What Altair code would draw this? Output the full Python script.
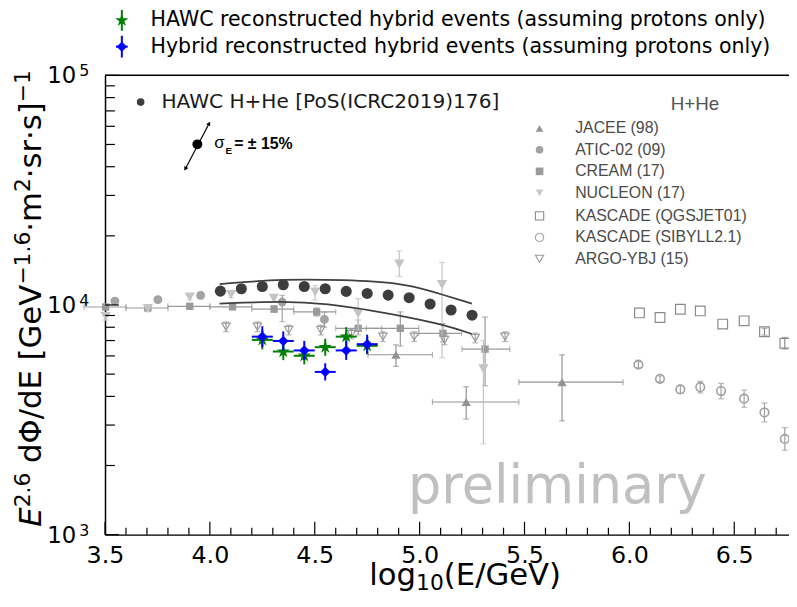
import altair as alt
import pandas as pd

# ---------------- data ----------------
hawc_x = [4.05, 4.15, 4.25, 4.35, 4.45, 4.55, 4.65, 4.75, 4.85, 4.95, 5.05, 5.15, 5.25]
hawc_y = [11490, 11770, 12040, 12250, 12040, 11770, 11460, 11230, 11040, 10760, 10100, 9510, 9030]

band_up_x = [4.047, 4.353, 4.636, 4.919, 5.043, 5.249]
band_up_y = [12340, 12990, 12870, 12450, 11570, 10140]
band_lo_x = [4.046, 4.353, 4.557, 4.793, 4.930, 5.123, 5.249]
band_lo_y = [10140, 10400, 10140, 9400, 8900, 8175, 7475]

green_x = [4.25, 4.35, 4.45, 4.55, 4.65, 4.75]
green_y = [7046, 6270, 6010, 6550, 7280, 6640]
green_yerr = [0.10, 0.09, 0.09, 0.09, 0.10, 0.09]
blue_x = [4.25, 4.35, 4.45, 4.55, 4.65, 4.75]
blue_y = [7280, 6973, 6340, 5113, 6340, 6750]
blue_yerr = [0.11, 0.10, 0.10, 0.09, 0.10, 0.10]
hyb_xerr = 0.05

jacee_x = [4.887, 5.222, 5.679]
jacee_y = [6070, 3780, 4610]
jacee_xlo = [4.754, 5.061, 5.473]
jacee_xhi = [5.061, 5.473, 5.970]
jacee_ylo = [5405, 3185, 3130]
jacee_yhi = [6705, 4405, 6070]

atic_x = [3.547, 3.752, 3.956, 4.345, 4.546]
atic_y = [10400, 10550, 11010, 10300, 8650]
atic_ylo = [10100, 10250, 10650, 8460, 8000]
atic_yhi = [10700, 10850, 11350, 11010, 9300]

cream_x = [3.503, 3.704, 3.904, 4.108, 4.306, 4.509, 4.707, 4.908, 5.111, 5.312]
cream_y = [9800, 9700, 9870, 9820, 9600, 9330, 7913, 7913, 7526, 6424]
cream_xlo = [3.40, 3.60, 3.80, 4.00, 4.20, 4.40, 4.60, 4.746, 4.996, 5.202]
cream_xhi = [3.60, 3.80, 4.00, 4.20, 4.40, 4.60, 4.82, 4.996, 5.200, 5.430]
cream_ylo = [9550, 9450, 9600, 9550, 9300, 8950, 7400, 6620, 6900, 4450]
cream_yhi = [10050, 9950, 10150, 10100, 9900, 9700, 8600, 9330, 8300, 8860]

nucleon_x = [3.503, 3.704, 3.904, 4.101, 4.305, 4.502, 4.707, 4.903, 5.107, 5.304]
nucleon_y = [8900, 9650, 10830, 11120, 10690, 11380, 9180, 15080, 12280, 5280]
nucleon_ylo = [8600, 9350, 10500, 10750, 10300, 10500, 7780, 13320, 5890, 2485]
nucleon_yhi = [9200, 9950, 11150, 11500, 11100, 12160, 10660, 17210, 15320, 7000]

argo_x = [4.077, 4.227, 4.376, 4.529, 4.675, 4.825, 4.974, 5.119, 5.265, 5.407]
argo_y = [8040, 8040, 7780, 7780, 7480, 7280, 7280, 7046, 7187, 7280]
argo_yerr = [0.05, 0.05, 0.05, 0.05, 0.05, 0.05, 0.05, 0.05, 0.05, 0.05]

kq_x = [6.048, 6.146, 6.243, 6.338, 6.445, 6.547, 6.644, 6.741]
kq_y = [9236, 8824, 9583, 9421, 8257, 8531, 7648, 6816]
kq_yerr = [0, 0, 0, 0, 0, 0, 0.035, 0.06]

ks_x = [6.043, 6.146, 6.243, 6.338, 6.437, 6.547, 6.644, 6.741]
ks_y = [5495, 4769, 4288, 4387, 4217, 3910, 3404, 2611]
ks_yerr = [0.03, 0.03, 0.04, 0.06, 0.08, 0.09, 0.10, 0.12]

x_major = [3.5, 4.0, 4.5, 5.0, 5.5, 6.0, 6.5]
x_minor = [round(3.5 + 0.1 * i, 1) for i in range(33) if i % 5 != 0]
y_major = [1000, 10000, 100000]
y_major_exp = ["3", "4", "5"]
y_minor = [m * d for d in (1000, 10000) for m in range(2, 10)]

lit_labels = ["JACEE (98)", "ATIC-02 (09)", "CREAM (17)", "NUCLEON (17)",
              "KASCADE (QGSJET01)", "KASCADE (SIBYLL2.1)", "ARGO-YBJ (15)"]
lit_shapes = ["triangle-up", "circle", "square", "triangle-down", "square", "circle", "triangle-down"]
lit_filled = [True, True, True, True, False, False, False]
lit_colors = ["#939393", "#a3a3a3", "#9a9a9a", "#c8c8c8", "#8a8a8a", "#a6a6a6", "#9c9c9c"]

legend_texts = ["HAWC reconstructed hybrid events (assuming protons only)",
                "Hybrid reconstructed hybrid events (assuming protons only)"]

# y-axis title pieces: (text, is_superscript, italic)
ytitle_parts = [("E", False, True), ("2.6", True, False), (" dΦ/dE [GeV", False, False),
                ("−1.6", True, False), ("·m", False, False), ("2", True, False),
                ("·sr·s]", False, False), ("−1", True, False)]
xtitle_parts = [("log", False), ("10", True), ("(E/GeV)", False)]

# ---------------- layout ----------------
W, H = 691, 464
FONT = "DejaVu Sans"
xs = alt.Scale(domain=[3.5, 6.761], nice=False, zero=False)
ys = alt.Scale(type="log", domain=[1000, 100000], nice=False)

x_axis = alt.Axis(values=x_major, format=".1f", ticks=False, grid=False,
                  domainColor="black", domainWidth=1.5, labelFont=FONT, labelFontSize=24,
                  labelColor="black", labelPadding=9, labelFlush=False, title=None)
y_axis = alt.Axis(values=y_major, ticks=False, grid=False, labels=False,
                  domainColor="black", domainWidth=1.5, title=None)


def X(f):
    return alt.X(f, type="quantitative", scale=xs, axis=x_axis)


def Y(f):
    return alt.Y(f, type="quantitative", scale=ys, axis=y_axis)


def series(x, y, shape, color, size, filled=True, xlo=None, xhi=None, ylo=None, yhi=None,
           ecolor=None, ewidth=1.2, caps=True, stroke_w=1.2):
    d = {"x": x, "y": y}
    if xlo is not None:
        d["xlo"], d["xhi"] = xlo, xhi
    if ylo is not None:
        d["ylo"], d["yhi"] = ylo, yhi
    df = pd.DataFrame(d)
    ec = ecolor or color
    out = []
    base = alt.Chart(df)
    if xlo is not None:
        out.append(base.mark_rule(color=ec, strokeWidth=ewidth).encode(x=X("xlo"), x2="xhi", y=Y("y")))
        if caps:
            out.append(base.mark_tick(color=ec, orient="vertical", size=6, thickness=ewidth).encode(x=X("xlo"), y=Y("y")))
            out.append(base.mark_tick(color=ec, orient="vertical", size=6, thickness=ewidth).encode(x=X("xhi"), y=Y("y")))
    if ylo is not None:
        eb = alt.Chart(df[(df["ylo"] < df["y"]) | (df["yhi"] > df["y"])])
        out.append(eb.mark_rule(color=ec, strokeWidth=ewidth).encode(x=X("x"), y=Y("ylo"), y2="yhi"))
        if caps:
            out.append(eb.mark_tick(color=ec, orient="horizontal", size=6, thickness=ewidth).encode(x=X("x"), y=Y("ylo")))
            out.append(eb.mark_tick(color=ec, orient="horizontal", size=6, thickness=ewidth).encode(x=X("x"), y=Y("yhi")))
    if filled:
        m = base.mark_point(shape=shape, filled=True, color=color, size=size, opacity=1, strokeWidth=0)
    else:
        m = base.mark_point(shape=shape, filled=False, color=color, size=size, strokeWidth=stroke_w, opacity=1)
    out.append(m.encode(x=X("x"), y=Y("y")))
    return out


def frac_lo(y, e):
    return [v / (1 + f) for v, f in zip(y, e)]


def frac_hi(y, e):
    return [v * (1 + f) for v, f in zip(y, e)]


STAR = "M0,-1L0.2245,-0.309L0.951,-0.309L0.363,0.118L0.588,0.809L0,0.382L-0.588,0.809L-0.363,0.118L-0.951,-0.309L-0.2245,-0.309Z"

layers = []
# literature data (grey background)
layers += series(jacee_x, jacee_y, "triangle-up", "#939393", 90, xlo=jacee_xlo, xhi=jacee_xhi,
                 ylo=jacee_ylo, yhi=jacee_yhi)
layers += series(cream_x, cream_y, "square", "#9a9a9a", 55, xlo=cream_xlo, xhi=cream_xhi,
                 ylo=cream_ylo, yhi=cream_yhi)
layers += series(nucleon_x, nucleon_y, "triangle-down", "#c4c4c4", 110, ylo=nucleon_ylo, yhi=nucleon_yhi)
layers += series(atic_x, atic_y, "circle", "#a3a3a3", 80, ylo=atic_ylo, yhi=atic_yhi)
layers += series(argo_x, argo_y, "triangle-down", "#9c9c9c", 70, filled=False,
                 ylo=frac_lo(argo_y, argo_yerr), yhi=frac_hi(argo_y, argo_yerr))
layers += series(kq_x, kq_y, "square", "#8a8a8a", 95, filled=False,
                 ylo=frac_lo(kq_y, kq_yerr), yhi=frac_hi(kq_y, kq_yerr))
layers += series(ks_x, ks_y, "circle", "#a0a0a0", 75, filled=False, stroke_w=1.6,
                 ylo=frac_lo(ks_y, ks_yerr), yhi=frac_hi(ks_y, ks_yerr))

# HAWC H+He band and points
for bx, by in ((band_up_x, band_up_y), (band_lo_x, band_lo_y)):
    layers.append(alt.Chart(pd.DataFrame({"x": bx, "y": by})).mark_line(
        color="#404040", strokeWidth=1.8, interpolate="basis").encode(x=X("x"), y=Y("y")))
layers.append(alt.Chart(pd.DataFrame({"x": hawc_x, "y": hawc_y})).mark_point(
    shape="circle", filled=True, color="#3d3d3d", size=125, opacity=1).encode(x=X("x"), y=Y("y")))

# hybrid events
layers += series(green_x, green_y, STAR, "#008000", 200,
                 xlo=[v - hyb_xerr for v in green_x], xhi=[v + hyb_xerr for v in green_x],
                 ylo=frac_lo(green_y, green_yerr), yhi=frac_hi(green_y, green_yerr),
                 ewidth=2, caps=False)
layers += series(blue_x, blue_y, "diamond", "#0000ff", 110,
                 xlo=[v - hyb_xerr for v in blue_x], xhi=[v + hyb_xerr for v in blue_x],
                 ylo=frac_lo(blue_y, blue_yerr), yhi=frac_hi(blue_y, blue_yerr),
                 ewidth=2, caps=False)


# ticks (inward)
def tick_rules(vals, axis, length, width=1.2):
    df = pd.DataFrame({"v": vals})
    if axis == "x":
        return alt.Chart(df).mark_rule(color="black", strokeWidth=width).encode(
            x=X("v"), y=alt.value(H), y2=alt.value(H - length))
    return alt.Chart(df).mark_rule(color="black", strokeWidth=width).encode(
        y=Y("v"), x=alt.value(0), x2=alt.value(length))


layers.append(tick_rules(x_major, "x", 13))
layers.append(tick_rules(x_minor, "x", 7))
layers.append(tick_rules(y_major, "y", 14))
layers.append(tick_rules(y_minor, "y", 10))

# y tick labels 10^n
ylab = alt.Chart(pd.DataFrame({"v": y_major, "e": y_major_exp}))
layers.append(ylab.mark_text(text="10", fontSize=23, font=FONT, align="right", baseline="middle",
                             color="black", dy=1).encode(y=Y("v"), x=alt.value(-29)))
layers.append(ylab.mark_text(fontSize=16, font=FONT, align="left", baseline="middle",
                             color="black", dy=-4).encode(y=Y("v"), x=alt.value(-26), text="e:N"))

one = pd.DataFrame({"a": [0]})
# top spine
layers.append(alt.Chart(one).mark_rule(color="black", strokeWidth=1.5).encode(
    x=alt.value(0), x2=alt.value(W), y=alt.value(0)))


def txt(s, x, y, size, color="black", font=FONT, weight="normal", align="left", baseline="middle",
        angle=0, style="normal"):
    return alt.Chart(one).mark_text(text=s, fontSize=size, font=font, fontWeight=weight, color=color,
                                    align=align, baseline=baseline, angle=angle, fontStyle=style).encode(
        x=alt.value(x), y=alt.value(y))


def pt(x, y, shape, color, size, filled=True, sw=1.2, angle=0):
    return alt.Chart(one).mark_point(shape=shape, filled=filled, color=color, size=size,
                                     strokeWidth=(0 if filled else sw), opacity=1, angle=angle).encode(
        x=alt.value(x), y=alt.value(y))


def seg(x1, y1, x2, y2, color, w):
    return alt.Chart(one).mark_rule(color=color, strokeWidth=w).encode(
        x=alt.value(x1), y=alt.value(y1), x2=alt.value(x2), y2=alt.value(y2))


# axis titles built like mathtext (main size and script size)
F, S = 31, 22
ADV = {"E": 0.632, "d": 0.635, "Φ": 0.790, "/": 0.337, "[": 0.390, "]": 0.390, "G": 0.775,
       "e": 0.615, "V": 0.684, "m": 0.974, "s": 0.521, "r": 0.411, "·": 0.318, "−": 0.838,
       ".": 0.318, " ": 0.318, "l": 0.278, "o": 0.612, "g": 0.635, "(": 0.390, ")": 0.390}


def width(s, size):
    return sum(ADV.get(c, 0.636) for c in s) * size


pos = 456.0  # chart y where the rotated title starts (bottom)
for s, sup, ital in ytitle_parts:
    size = S if sup else F
    bx = -76 if sup else -65
    lead = len(s) - len(s.lstrip(" "))
    pos -= lead * width(" ", size)
    s = s.lstrip(" ")
    layers.append(txt(s, bx, pos, size, angle=270, baseline="alphabetic",
                      style=("italic" if ital else "normal")))
    pos -= width(s, size)

pos = 267.0
for s, sub in xtitle_parts:
    size = S if sub else F
    by = 520 if sub else 515
    layers.append(txt(s, pos, by, size, baseline="alphabetic"))
    pos += width(s, size)

# top legend
layers.append(seg(17, -66, 17, -45, "#008000", 2))
layers.append(pt(17, -55.5, STAR, "#008000", 200))
layers.append(txt(legend_texts[0], 46, -55.5, 20.75))
layers.append(seg(17, -40, 17, -18, "#0000ff", 2))
layers.append(seg(11, -29, 23, -29, "#0000ff", 2))
layers.append(pt(17, -29, "diamond", "#0000ff", 110))
layers.append(txt(legend_texts[1], 46, -29, 20.75))

# in-plot HAWC label
layers.append(pt(36, 27, "circle", "#3d3d3d", 60))
layers.append(txt("HAWC H+He [PoS(ICRC2019)176]", 57, 27, 20.3, color="#1a1a1a"))

# sigma_E annotation
layers.append(seg(80.7, 95.3, 105.7, 47.7, "black", 1.2))
layers.append(pt(105.2, 48.6, "triangle-up", "black", 22, angle=28))
layers.append(pt(81.2, 94.4, "triangle-down", "black", 22, angle=28))
layers.append(pt(93.3, 69.7, "circle", "black", 100))
layers.append(txt("σ", 115.5, 68.5, 17, font="Liberation Sans", align="center"))
layers.append(txt("E", 125, 76.5, 10, font="Liberation Sans", weight="bold", align="center"))
layers.append(txt("= ± 15%", 130.5, 69.5, 16, font="Liberation Sans", weight="bold"))

# literature legend
layers.append(txt("H+He", 596, 29, 19, color="#555555", font="Liberation Sans", align="center"))
lit_rows = [53.7, 75.3, 97.0, 118.7, 142.0, 163.7, 185.3]
for lab, shp, fil, col, ry in zip(lit_labels, lit_shapes, lit_filled, lit_colors, lit_rows):
    layers.append(pt(439, ry, shp, col, 60 if fil else 70, filled=fil, sw=1.1))
    layers.append(txt(lab, 475, ry, 16, color="#4a4a4a", font="Liberation Sans"))

# preliminary
layers.append(txt("preliminary", 457, 416, 53, color="#c0c0c0", align="center"))

chart = alt.layer(*layers).properties(
    width=W, height=H,
    autosize=alt.AutoSizeParams(type="none"),
    padding={"left": 98, "top": 65, "right": 0, "bottom": 62},
).configure_view(stroke=None).configure(background="white")

chart.save("out.html", embed_options={"renderer": "svg", "actions": False})
